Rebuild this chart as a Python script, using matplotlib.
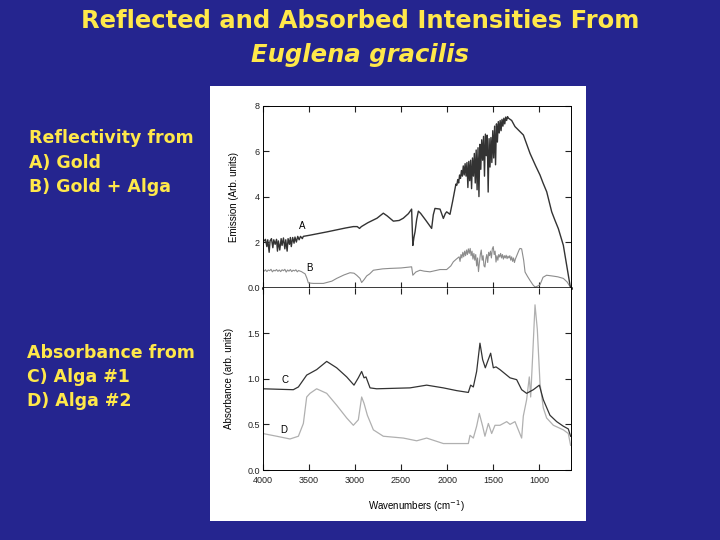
import matplotlib.pyplot as plt
from matplotlib.patches import Rectangle

# ---- data ----
# A) reflectivity from gold
wn_a = [4000, 3985, 3970, 3955, 3945, 3930, 3920, 3905, 3890, 3880, 3865, 3850, 3840, 3830,
        3815, 3800, 3790, 3775, 3760, 3750, 3735, 3725, 3710, 3700, 3690, 3675, 3660, 3650,
        3635, 3620, 3605, 3590, 3570, 3560,
        3490, 3300, 3100, 3017, 2975, 2950, 2930, 2860, 2760, 2692, 2650, 2583, 2520, 2475,
        2420, 2385, 2378, 2372, 2360, 2348, 2330, 2312, 2287, 2230, 2168, 2150, 2132, 2077,
        2041, 2020, 2005, 1969, 1940,
        1915, 1905, 1895, 1885, 1875, 1865, 1855, 1845, 1835, 1825, 1815, 1805, 1795, 1785,
        1775, 1765, 1755, 1745, 1735, 1725, 1715, 1705, 1695, 1685, 1675, 1665, 1655, 1645,
        1635, 1625, 1615, 1605, 1595, 1585, 1575, 1565, 1555, 1545, 1535, 1525, 1515, 1505,
        1495, 1485, 1475, 1465, 1455, 1445, 1435, 1425, 1415, 1405, 1395, 1385, 1375, 1365,
        1355, 1345, 1335,
        1300, 1264, 1173, 1101, 1040, 993, 960, 920, 866, 830, 794, 740, 703, 667, 660]
em_a = [2.10, 2.05, 2.12, 1.80, 2.10, 1.55, 2.05, 2.15, 1.75, 2.10, 1.90, 2.12, 1.60, 2.05,
        1.65, 2.15, 1.85, 2.18, 1.70, 2.10, 1.60, 2.15, 1.90, 2.20, 1.80, 2.20, 1.95, 2.22,
        2.00, 2.25, 2.10, 2.25, 2.15, 2.25,
        2.30, 2.45, 2.62, 2.68, 2.68, 2.60, 2.68, 2.85, 3.05, 3.27, 3.15, 2.92, 2.95, 3.05,
        3.25, 3.45, 2.60, 1.85, 2.20, 2.45, 3.00, 3.36, 3.26, 2.95, 2.60, 3.20, 3.48, 3.45,
        3.04, 3.25, 3.33, 3.22, 3.80,
        4.35, 4.55, 4.50, 4.75, 4.60, 4.95, 4.80, 5.15, 4.90, 5.35, 4.95, 5.45, 4.90, 5.50,
        4.40, 5.55, 4.70, 5.60, 4.35, 5.70, 4.90, 5.90, 4.60, 6.05, 4.30, 6.15, 4.00, 6.30,
        5.20, 6.50, 5.60, 6.65, 4.90, 6.75, 5.80, 6.70, 4.20, 6.55, 5.30, 6.60, 5.50, 6.90,
        5.70, 7.10, 5.40, 7.20, 6.40, 7.30, 6.80, 7.35, 6.90, 7.40, 7.10, 7.45, 7.20, 7.50,
        7.35, 7.52, 7.45,
        7.35, 7.08, 6.71, 5.90, 5.35, 4.95, 4.60, 4.21, 3.33, 2.95, 2.59, 1.86, 0.97, 0.09, 0.02]

# B) reflectivity from gold + alga
wn_b = [4000, 3985, 3970, 3955, 3940, 3925, 3910, 3895, 3880, 3865, 3850, 3835, 3820, 3805,
        3790, 3775, 3760, 3745, 3730, 3715, 3700, 3685, 3670, 3655, 3640, 3625, 3610, 3595,
        3580, 3565, 3540, 3520, 3505, 3450, 3342, 3250, 3198, 3120, 3053, 3010, 2981, 2945,
        2927, 2900, 2872, 2840, 2800, 2700, 2619, 2500, 2385, 2378, 2372, 2340, 2294, 2250,
        2186, 2120, 2077, 2005, 1960, 1933, 1900,
        1870, 1860, 1850, 1840, 1830, 1820, 1810, 1800, 1790, 1780, 1770, 1760, 1750, 1740,
        1730, 1720, 1710, 1700, 1690, 1680, 1670, 1660, 1650, 1640, 1630, 1620, 1610, 1600,
        1590, 1580, 1570, 1560, 1550, 1540, 1530, 1520, 1510, 1500, 1490, 1480, 1470, 1460,
        1450, 1440, 1430, 1420, 1410, 1400, 1390, 1380, 1370, 1360, 1350, 1340, 1330, 1320,
        1310, 1300, 1290, 1280, 1270, 1260, 1250, 1240, 1230, 1220, 1210, 1192,
        1170, 1155, 1130, 1101, 1070, 1047, 1020, 993, 960, 921, 880, 848, 800, 740, 700,
        668, 660]
em_b = [0.76, 0.72, 0.78, 0.70, 0.77, 0.74, 0.80, 0.69, 0.76, 0.73, 0.79, 0.71, 0.77, 0.70,
        0.78, 0.74, 0.80, 0.68, 0.77, 0.72, 0.79, 0.70, 0.76, 0.73, 0.78, 0.69, 0.75, 0.72,
        0.70, 0.66, 0.60, 0.40, 0.20, 0.18, 0.18, 0.28, 0.40, 0.55, 0.65, 0.63, 0.54, 0.40,
        0.22, 0.35, 0.51, 0.60, 0.76, 0.82, 0.84, 0.86, 0.91, 0.70, 0.54, 0.68, 0.76, 0.72,
        0.69, 0.75, 0.79, 0.79, 0.95, 1.13, 1.25,
        1.35, 1.15, 1.45, 1.30, 1.55, 1.35, 1.60, 1.40, 1.65, 1.45, 1.70, 1.50, 1.72, 1.40,
        1.60, 1.25, 1.50, 1.20, 1.45, 0.95, 1.30, 0.70, 1.10, 1.45, 1.65, 1.20, 1.40, 0.95,
        0.90, 1.25, 1.45, 1.10, 1.55, 1.40, 1.60, 1.30, 1.70, 1.80, 1.45, 1.60, 1.12, 1.40,
        1.20, 1.45, 1.34, 1.50, 1.30, 1.45, 1.25, 1.40, 1.30, 1.42, 1.27, 1.38, 1.30, 1.40,
        1.20, 1.35, 1.15, 1.30, 1.10, 1.25, 1.35, 1.45, 1.55, 1.65, 1.72, 1.70,
        1.20, 0.68, 0.50, 0.31, 0.12, 0.02, 0.06, 0.12, 0.45, 0.54, 0.52, 0.50, 0.47, 0.40, 0.25,
        0.05, 0.02]

# C) absorbance from alga #1
wn_c = [4000, 3668, 3613, 3523, 3415, 3306, 3198, 3089, 3010, 2963, 2927, 2901, 2880, 2836,
        2764, 2403, 2222, 2041, 1897, 1770, 1745, 1716, 1680, 1644, 1615, 1586, 1561, 1528,
        1499, 1470, 1427, 1318, 1246, 1192, 1138, 1065, 1000, 957, 885, 812, 740, 686, 661]
ab_c = [0.89, 0.88, 0.91, 1.04, 1.10, 1.19, 1.12, 1.02, 0.93, 1.01, 1.08, 1.01, 1.02, 0.90,
        0.89, 0.90, 0.93, 0.90, 0.87, 0.85, 0.93, 0.91, 1.08, 1.39, 1.21, 1.12, 1.19, 1.28,
        1.12, 1.13, 1.10, 1.01, 0.99, 0.88, 0.84, 0.88, 0.93, 0.77, 0.60, 0.53, 0.48, 0.45, 0.37]

# D) absorbance from alga #2
wn_d = [4000, 3848, 3704, 3613, 3559, 3523, 3487, 3415, 3306, 3198, 3089, 3017, 2963, 2927,
        2901, 2865, 2800, 2692, 2475, 2330, 2222, 2041, 1770, 1752, 1716, 1680, 1651, 1615,
        1590, 1553, 1517, 1481, 1427, 1354, 1318, 1264, 1228, 1192, 1174, 1138, 1109, 1094,
        1073, 1047, 1022, 993, 957, 921, 848, 740, 686, 661]
ab_d = [0.40, 0.37, 0.34, 0.37, 0.51, 0.80, 0.84, 0.89, 0.84, 0.71, 0.57, 0.49, 0.55, 0.80,
        0.73, 0.60, 0.44, 0.37, 0.35, 0.32, 0.35, 0.29, 0.29, 0.38, 0.35, 0.48, 0.62, 0.48,
        0.37, 0.51, 0.40, 0.49, 0.49, 0.53, 0.50, 0.53, 0.44, 0.35, 0.59, 0.77, 1.02, 0.80,
        1.24, 1.81, 1.54, 0.95, 0.68, 0.57, 0.49, 0.44, 0.40, 0.27]

x_ticks = [4000, 3500, 3000, 2500, 2000, 1500, 1000]
em_ticks = [0, 2, 4, 6, 8]
em_labels = ['0.0', '2', '4', '6', '8']
ab_ticks = [0.0, 0.5, 1.0, 1.5]
ab_labels = ['0.0', '0.5', '1.0', '1.5']

bg = '#25258f'
yellow = '#ffe84a'
chart_font = 'Liberation Sans'

fig = plt.figure(figsize=(7.2, 5.4), dpi=100, facecolor=bg)

# slide text
fig.text(0.5, 0.962, 'Reflected and Absorbed Intensities From', color=yellow,
         fontsize=17.5, weight='bold', ha='center', va='center', family='DejaVu Sans')
fig.text(0.5, 0.898, 'Euglena gracilis', color=yellow, fontsize=17.5, weight='bold',
         style='italic', ha='center', va='center', family='DejaVu Sans')
fig.text(0.040, 0.699, 'Reflectivity from\nA) Gold\nB) Gold + Alga', color=yellow,
         fontsize=12.5, weight='bold', ha='left', va='center', linespacing=1.45,
         family='DejaVu Sans')
fig.text(0.038, 0.302, 'Absorbance from\nC) Alga #1\nD) Alga #2', color=yellow,
         fontsize=12.5, weight='bold', ha='left', va='center', linespacing=1.45,
         family='DejaVu Sans')

# white picture panel, kept behind the axes
fig.patches.append(Rectangle((210 / 720, 1 - 521 / 540), 376 / 720, 435 / 540,
                             transform=fig.transFigure, facecolor='white', edgecolor='none',
                             zorder=-10))

left = 262.7 / 720
width = 308 / 720
ax1 = fig.add_axes([left, 1 - 287.5 / 540, width, 181.8 / 540])
ax2 = fig.add_axes([left, 1 - 470 / 540, width, 182.5 / 540])

ax1.plot(wn_b, em_b, color='#8c8c8c', lw=0.8)
ax1.plot(wn_a, em_a, color='#333333', lw=1.0)
ax2.plot(wn_d, ab_d, color='#b0b0b0', lw=0.9)
ax2.plot(wn_c, ab_c, color='#333333', lw=0.9)

for ax in (ax1, ax2):
    ax.set_xlim(4000, 660)
    ax.set_xticks(x_ticks)
    ax.tick_params(direction='in', top=True, right=True, length=4, width=0.8,
                   labelsize=6.5, colors='#222222', pad=2)
    ax.set_facecolor('white')
    for s in ax.spines.values():
        s.set_linewidth(0.7)

ax1.set_ylim(0, 8)
ax1.set_yticks(em_ticks, em_labels, family=chart_font)
ax1.tick_params(axis='x', labelbottom=False)
ax1.spines['bottom'].set_linewidth(1.8)
ax1.set_ylabel('Emission (Arb. units)', fontsize=7, family=chart_font, labelpad=6)

ax2.set_ylim(0, 2)
ax2.set_yticks(ab_ticks, ab_labels, family=chart_font)
ax2.set_xticks(x_ticks, [str(t) for t in x_ticks], family=chart_font)
ax2.tick_params(axis='x', pad=4)
ax2.spines['top'].set_visible(False)
ax2.set_ylabel('Absorbance (arb. units)', fontsize=7, family=chart_font, labelpad=10)
ax2.set_xlabel('Wavenumbers (cm$^{-1}$)', fontsize=7, family=chart_font, labelpad=10)

ax1.text(3566, 2.69, 'A', fontsize=7, family=chart_font, ha='center', va='center')
ax1.text(3498, 0.84, 'B', fontsize=7, family=chart_font, ha='center', va='center')
ax2.text(3758, 0.99, 'C', fontsize=7, family=chart_font, ha='center', va='center')
ax2.text(3769, 0.44, 'D', fontsize=7, family=chart_font, ha='center', va='center')

fig.savefig('out.png', dpi=100, facecolor=bg)
